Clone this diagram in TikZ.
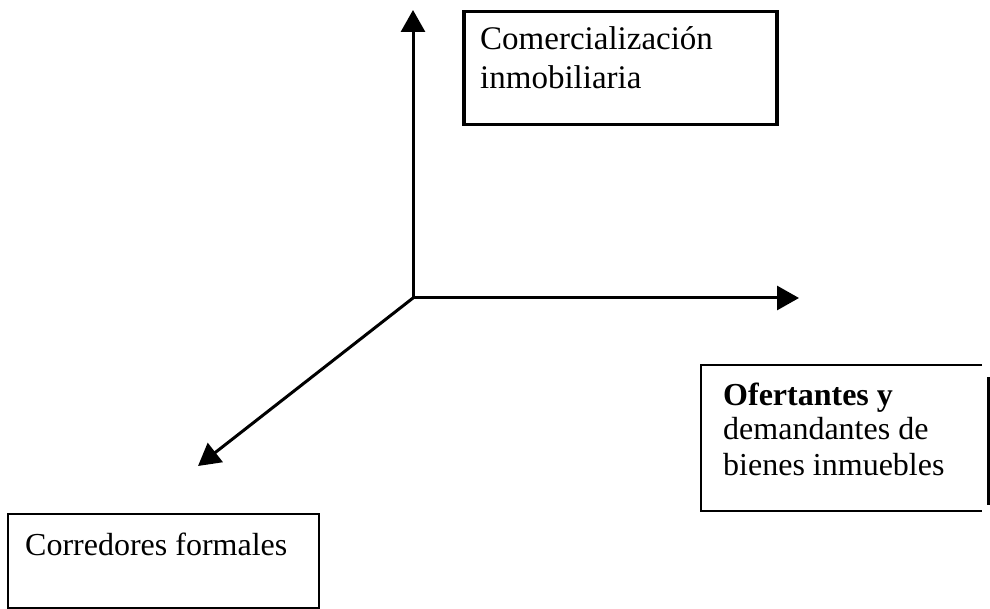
\documentclass[tikz,border=0pt]{standalone}
\usepackage{fontspec}
\setmainfont{Liberation Serif}
\usetikzlibrary{arrows.meta}

\tikzset{
  axis/.style={line width=3pt, -{Triangle[length=22pt,width=24pt]}},
  box/.style={draw, line width=2pt, inner sep=0pt, anchor=north west},
  lbl/.style={anchor=base west, inner sep=0pt, font=\fontsize{33}{38}\selectfont},
}

\begin{document}
\begin{tikzpicture}[x=1pt,y=-1pt]
\useasboundingbox (0,0) rectangle (990,609);
%%%% Axes:
\coordinate (o) at (413,298);
\coordinate (up) at (413,10);
\coordinate (right) at (799,298);
\coordinate (down) at (198,466);
\draw[axis] (o) -- (up);
\draw[axis] (o) -- (right);
\draw[axis] (o) -- (down);

%%%% Top box
\node[box, line width=3.5pt, minimum width=313pt, minimum height=113pt] (comBox) at (462,10) {};
\node[lbl] (com1) at (480,50) {Comercialización};
\node[lbl] (com2) at (480,89) {inmobiliaria};

%%%% Right box (open on the right, loose edge beside it)
\draw[line width=2pt] (982,365) -- (701,365) -- (701,511) -- (982,511);
\draw[line width=3pt] (988,377) -- (988,505);
\node[lbl, font=\fontsize{32}{36}\selectfont\bfseries] (ofe1) at (723,405) {Ofertantes y};
\node[lbl, font=\fontsize{32}{36}\selectfont] (ofe2) at (723,439) {demandantes de};
\node[lbl, font=\fontsize{32}{36}\selectfont] (ofe3) at (723,475) {bienes inmuebles};

%%%% Bottom box
\node[box, minimum width=311pt, minimum height=94pt] (corBox) at (7,513) {};
\node[lbl, font=\fontsize{32}{38}\selectfont] (cor1) at (25,555) {Corredores formales};
\end{tikzpicture}
\end{document}
